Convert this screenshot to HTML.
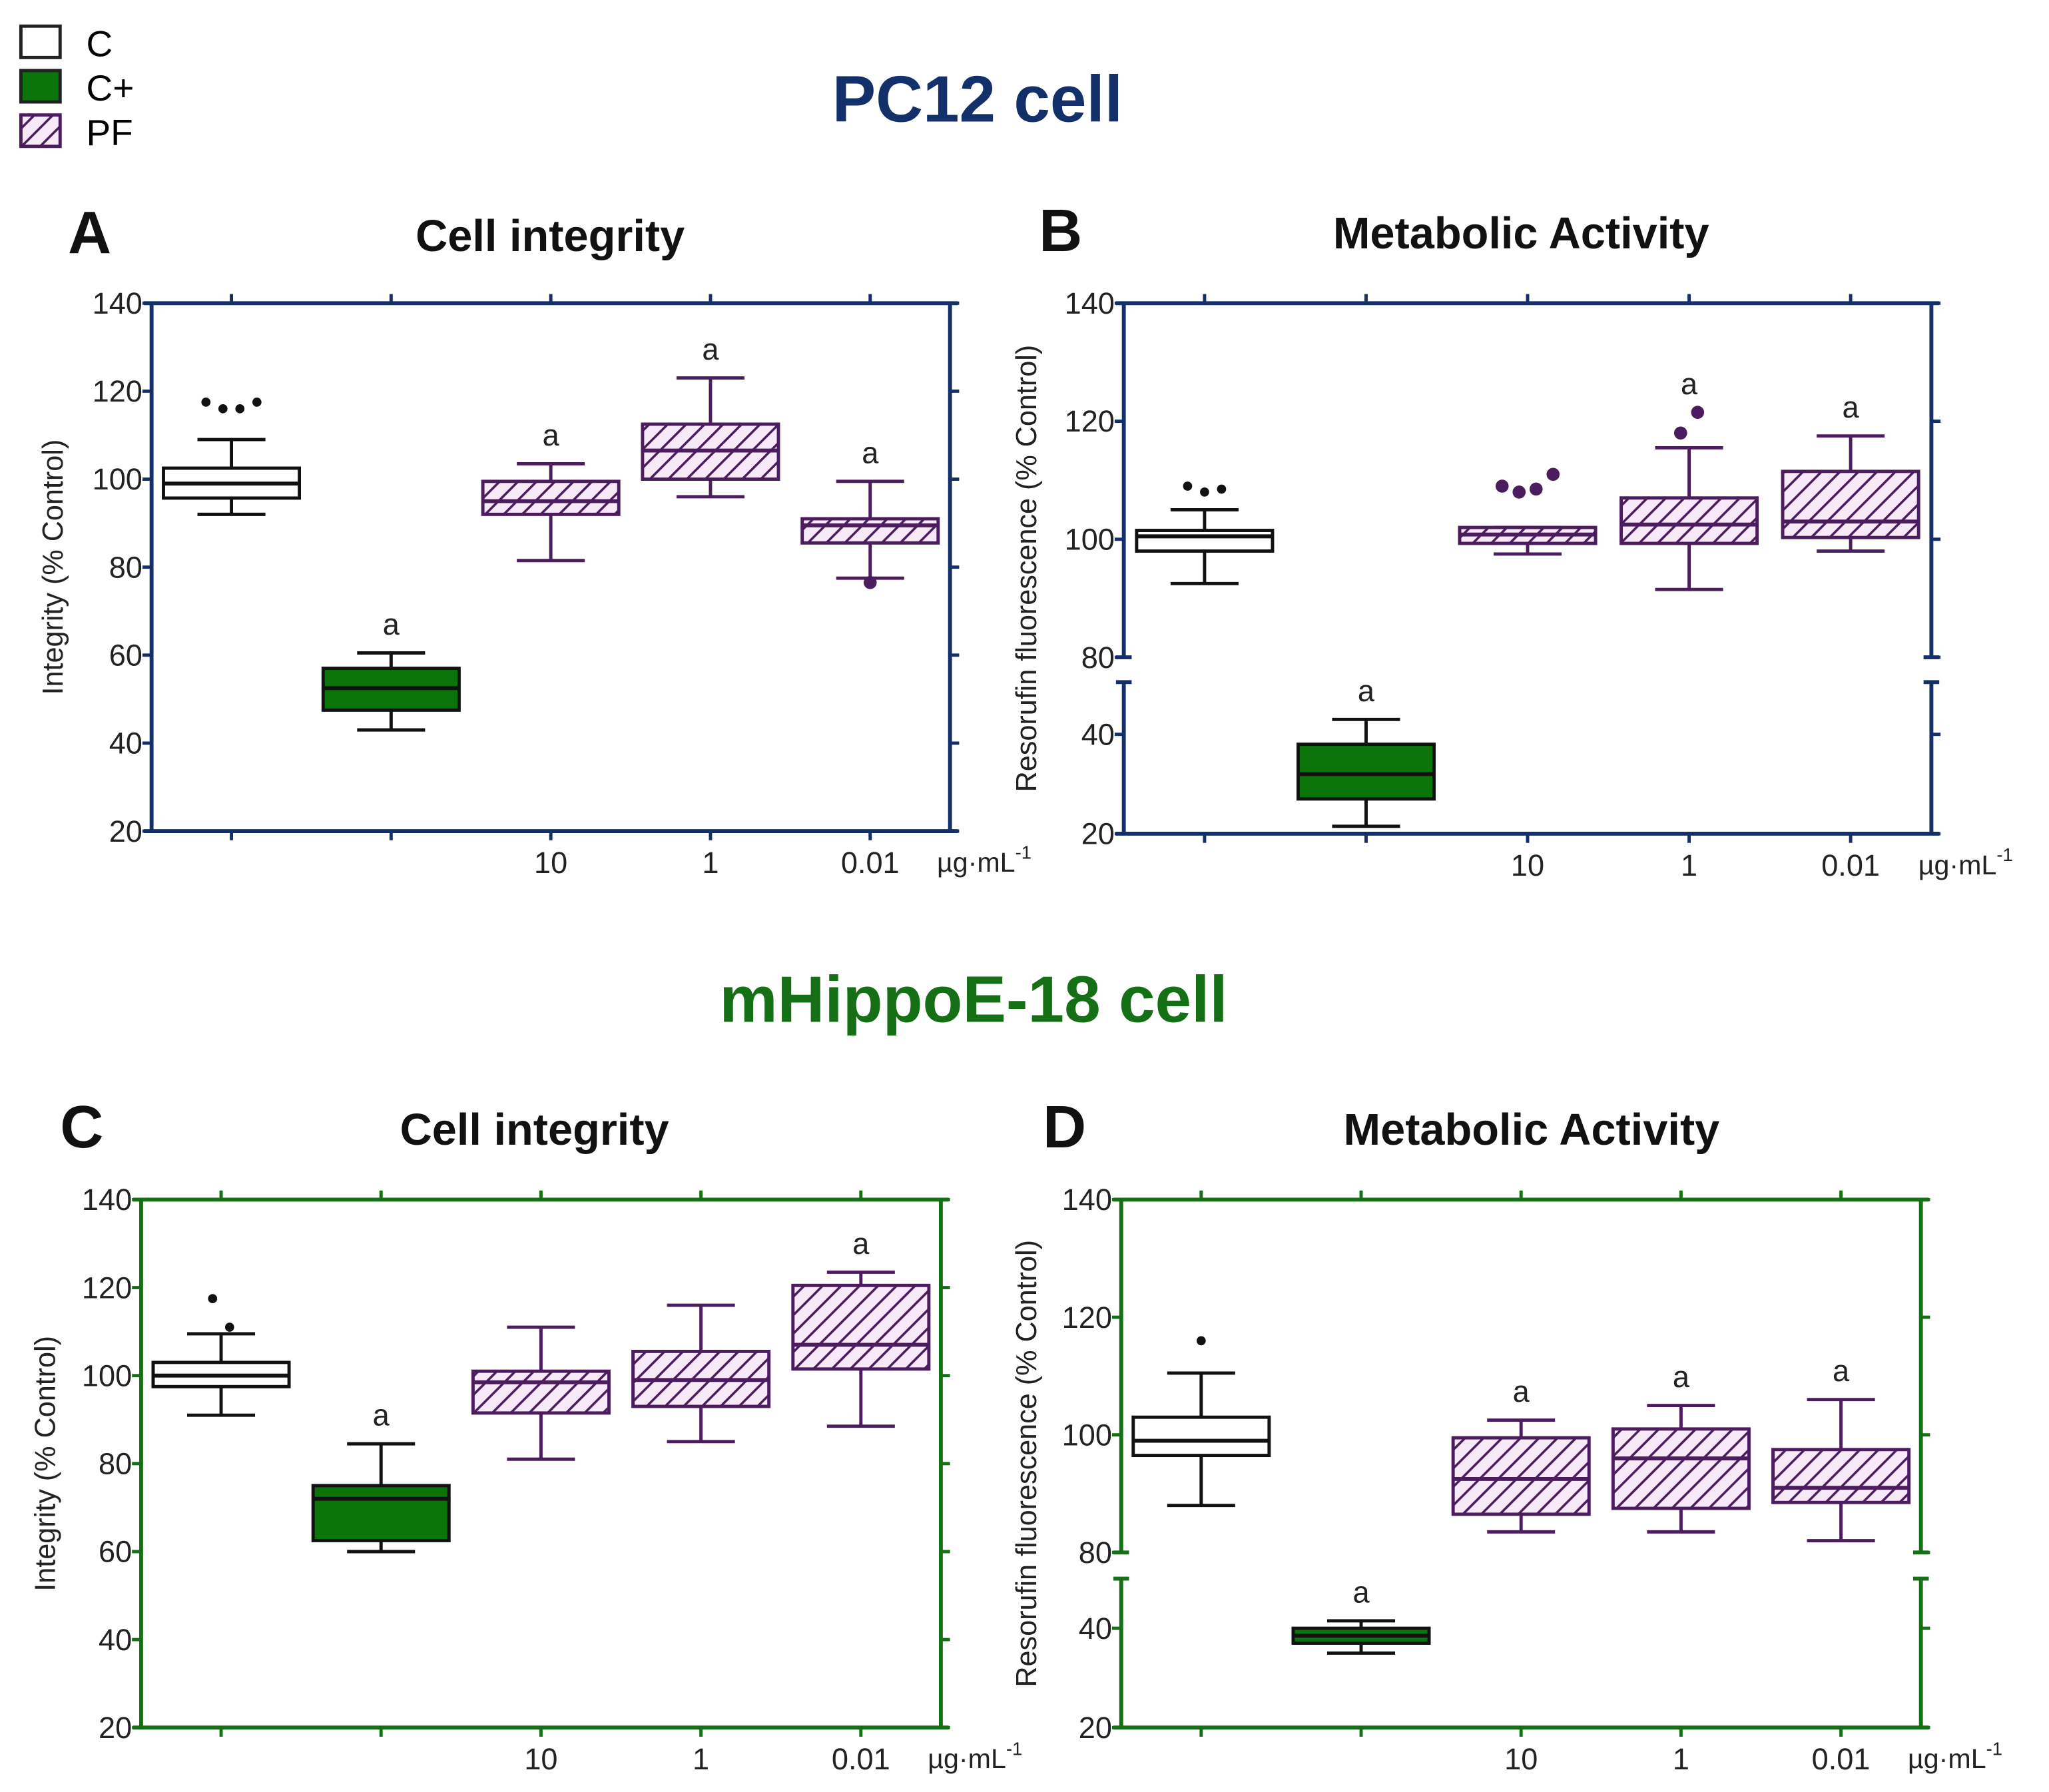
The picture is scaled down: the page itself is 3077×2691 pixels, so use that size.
<!DOCTYPE html>
<html><head><meta charset="utf-8"><style>body{margin:0;background:#fff}svg{display:block}text{font-family:"Liberation Sans",sans-serif}</style></head>
<body>
<svg id="fig" width="3077" height="2691" viewBox="0 0 1568 1371.3" xmlns="http://www.w3.org/2000/svg">
<defs>
<pattern id="hatch" patternUnits="userSpaceOnUse" width="10" height="10" patternTransform="rotate(45)">
<rect width="10" height="10" fill="#f7e9f7"/><line x1="0" y1="0" x2="0" y2="10" stroke="#4b1d5e" stroke-width="3.6"/>
</pattern>
</defs>
<g>
<rect x="16" y="20" width="30" height="24" fill="#fff" stroke="#222" stroke-width="2.5"/>
<text x="66" y="43" font-size="28">C</text>
<rect x="16" y="54" width="30" height="24" fill="#0b740b" stroke="#222" stroke-width="2.5"/>
<text x="66" y="77" font-size="28">C+</text>
<rect x="16" y="88" width="30" height="24" fill="url(#hatch)" stroke="#4b1d5e" stroke-width="2.5"/>
<text x="66" y="111" font-size="28">PF</text>
</g>
<text x="748" y="93" font-size="50" font-weight="bold" fill="#14306a" text-anchor="middle">PC12 cell</text>
<text x="745" y="782" font-size="50" font-weight="bold" fill="#157015" text-anchor="middle">mHippoE-18 cell</text>
<g id="root"></g>
</svg>
<script>
// Panel data: [min, q1, median, q3, max] for C, C+, PF10, PF1, PF0.01
const categories = ["C","C+","PF 10","PF 1","PF 0.01"];
const tickLabelsX = ["","","10","1","0.01"];
const boxesA = [[92,95.7,99,102.5,109],[43,47.5,52.5,57,60.5],[81.5,92,95,99.5,103.5],[96,100,106.5,112.5,123],[77.5,85.5,89.5,91,99.5]];
const outliersA = [[117.5,116,116,117.5],[],[],[],[76.5]];
const lettersA = [false,true,true,true,true];
const boxesB = [[92.5,98,100.5,101.5,105],[21.5,27,32,38,43],[97.5,99.3,100.8,102,102],[91.5,99.3,102.5,107,115.5],[98,100.3,103,111.5,117.5]];
const outliersB = [[109,108,108.5],[],[109,108,108.5,111],[118,121.5],[]];
const lettersB = [false,true,false,true,true];
const boxesC = [[91,97.5,100,103,109.5],[60,62.5,72,75,84.5],[81,91.5,98.5,101,111],[85,93,99,105.5,116],[88.5,101.5,107,120.5,123.5]];
const outliersC = [[117.5,111],[],[],[],[]];
const lettersC = [false,true,false,false,true];
const boxesD = [[88,96.5,99,103,110.5],[35,37,38.5,40,41.5],[83.5,86.5,92.5,99.5,102.5],[83.5,87.5,96,101,105],[82,88.5,91,97.5,106]];
const outliersD = [[116],[],[],[],[]];
const lettersD = [false,true,true,true,true];
const ticksFull = [20,40,60,80,100,120,140];
const ticksUpper = [80,100,120,140];
const ticksLower = [20,40];

const NS="http://www.w3.org/2000/svg", root=document.getElementById('root');
function mk(t,a,p){const e=document.createElementNS(NS,t);for(const k in a)e.setAttribute(k,a[k]);(p||root).appendChild(e);return e;}

function panel(o){
  const g=mk('g',{});
  
  
  const {x0,x1,top,bot,col}=o;
  const step=(x1-x0)/5;
  const cx=i=>x0+step*(i+0.5);
  let y;
  if(!o.brk){ y=v=>bot-(v-20)/120*(bot-top); }
  else { y=v=> v>=80 ? o.y80-(v-80)/60*(o.y80-top) : bot-(v-20)/(o.lowTop-20)*(bot-o.yLowTop); }
  const ax={stroke:col,'stroke-width':3,fill:'none'};
  mk('line',Object.assign({x1:x0-6,y1:top,x2:x1+6,y2:top},ax),g);
  mk('line',Object.assign({x1:x0-6,y1:bot,x2:x1+6,y2:bot},ax),g);
  if(!o.brk){
    mk('line',Object.assign({x1:x0,y1:top,x2:x0,y2:bot},ax),g);
    mk('line',Object.assign({x1:x1,y1:top,x2:x1,y2:bot},ax),g);
  } else {
    [x0,x1].forEach(xx=>{
      mk('line',Object.assign({x1:xx,y1:top,x2:xx,y2:o.y80},ax),g);
      mk('line',Object.assign({x1:xx,y1:o.yLowTop,x2:xx,y2:bot},ax),g);
      mk('line',Object.assign({x1:xx-6,y1:o.y80,x2:xx+6,y2:o.y80},ax),g);
      mk('line',Object.assign({x1:xx-6,y1:o.yLowTop,x2:xx+6,y2:o.yLowTop},ax),g);
    });
  }
  const yt=o.brk?ticksUpper.concat(ticksLower):ticksFull;
  yt.forEach(v=>{
    mk('line',{x1:x0-7,y1:y(v),x2:x0,y2:y(v),stroke:col,'stroke-width':2.5},g);
    mk('line',{x1:x1,y1:y(v),x2:x1+7,y2:y(v),stroke:col,'stroke-width':2.5},g);
    const t=mk('text',{x:x0-7,y:y(v)+8,'font-size':23,'text-anchor':'end',fill:'#222'},g);t.textContent=v;
  });
  categories.forEach((c,i)=>{
    mk('line',{x1:cx(i),y1:top-7,x2:cx(i),y2:top,stroke:col,'stroke-width':2.5},g);
    mk('line',{x1:cx(i),y1:bot,x2:cx(i),y2:bot+7,stroke:col,'stroke-width':2.5},g);
    if(tickLabelsX[i]){const t=mk('text',{x:cx(i),y:bot+32,'font-size':23,'text-anchor':'middle',fill:'#222'},g);t.textContent=tickLabelsX[i];}
  });
  const u=mk('text',{x:x1-10,y:bot+31,'font-size':21,fill:'#222'},g);u.innerHTML='µg·mL<tspan dy="-10" font-size="14">-1</tspan>';
  const yl=mk('text',{transform:`translate(${o.ylx},${(top+bot)/2}) rotate(-90)`,'font-size':22,'text-anchor':'middle',fill:'#222'},g);yl.textContent=o.ylabel;
  const tt=mk('text',{x:o.tx,y:o.ty,'font-size':34,'font-weight':'bold','text-anchor':'middle',fill:'#111'},g);tt.textContent=o.title;
  const lt=mk('text',{x:o.lx,y:o.ty+2,'font-size':46,'font-weight':'bold',fill:'#111'},g);lt.textContent=o.letter;
  const hw=52;
  o.boxes.forEach((b,i)=>{
    const bg=mk('g',{},g);
    
    
    const sc=i<2?'#111':'#4b1d5e';
    const fill=i==0?'#fff':(i==1?'#0b740b':'url(#hatch)');
    const X=cx(i);
    mk('line',{x1:X,y1:y(b[0]),x2:X,y2:y(b[4]),stroke:sc,'stroke-width':2.5},bg);
    mk('line',{x1:X-26,y1:y(b[0]),x2:X+26,y2:y(b[0]),stroke:sc,'stroke-width':2.5},bg);
    mk('line',{x1:X-26,y1:y(b[4]),x2:X+26,y2:y(b[4]),stroke:sc,'stroke-width':2.5},bg);
    mk('rect',{x:X-hw,y:y(b[3]),width:2*hw,height:Math.max(1,y(b[1])-y(b[3])),fill:fill,stroke:sc,'stroke-width':2.5},bg);
    mk('line',{x1:X-hw,y1:y(b[2]),x2:X+hw,y2:y(b[2]),stroke:sc,'stroke-width':3},bg);
    const out=o.outliers[i], n=out.length;
    out.forEach((v,k)=>{
      const dx=n>1?(k-(n-1)/2)*13:0;
      const dot=mk('circle',{cx:X+dx,cy:y(v),r:i>=2?5:3.5,fill:i>=2?'#4b1d5e':'#111'},bg);
      
      
    });
    if(o.letters[i]){const hi=Math.max(b[4],...out);const a=mk('text',{x:X,y:y(hi)-14,'font-size':23,'text-anchor':'middle',fill:'#222'},bg);a.textContent='a';}
  });
}
panel({name:'panel-a',x0:116,x1:727,top:232,bot:636,col:'#14306a',brk:false,boxes:boxesA,outliers:outliersA,letters:lettersA,ylabel:'Integrity (% Control)',ylx:48,title:'Cell integrity',tx:421,ty:192,letter:'A',lx:52});
panel({name:'panel-b',x0:860,x1:1478,top:232,bot:638,col:'#14306a',brk:true,y80:503,yLowTop:522,lowTop:50.5,boxes:boxesB,outliers:outliersB,letters:lettersB,ylabel:'Resorufin fluorescence (% Control)',ylx:793,title:'Metabolic Activity',tx:1164,ty:190,letter:'B',lx:795});
panel({name:'panel-c',x0:108,x1:720,top:918,bot:1322,col:'#157015',brk:false,boxes:boxesC,outliers:outliersC,letters:lettersC,ylabel:'Integrity (% Control)',ylx:42,title:'Cell integrity',tx:409,ty:876,letter:'C',lx:46});
panel({name:'panel-d',x0:858,x1:1470,top:918,bot:1322,col:'#157015',brk:true,y80:1188,yLowTop:1208,lowTop:50,boxes:boxesD,outliers:outliersD,letters:lettersD,ylabel:'Resorufin fluorescence (% Control)',ylx:793,title:'Metabolic Activity',tx:1172,ty:876,letter:'D',lx:798});
</script>
</body></html>
